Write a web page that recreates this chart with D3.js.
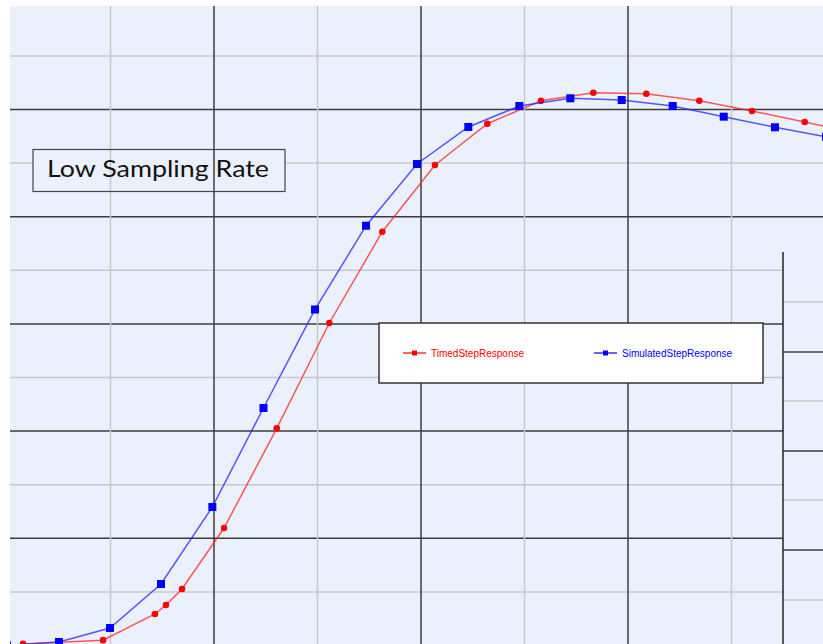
<!DOCTYPE html>
<meta charset="utf-8">
<script src="https://d3js.org/d3.v7.min.js"></script>
<style>
  body { margin: 0; background: #fff; }
</style>
<div id="my_dataviz"></div>
<script>
// chart size
var width = 823, height = 644

// grid positions (in chart units)
var xGrid = [1, 2, 3, 4, 5, 6, 7]
var yGrid = [1, 2, 3, 4, 5, 6, 7, 8, 9, 10, 11]

// TimedStepResponse (red, circles)
var timedT = [0.155, 0.928, 1.430, 1.536, 1.691, 2.097, 2.606, 3.114, 3.626, 4.135, 4.641, 5.159, 5.665, 6.177, 6.689, 7.198, 7.707, 8.21]
var timedV = [0.03, 0.10, 0.588, 0.756, 1.054, 2.192, 4.052, 6.017, 7.720, 8.965, 9.735, 10.164, 10.313, 10.295, 10.164, 9.972, 9.767, 9.56]

// SimulatedStepResponse (blue, squares)
var simT = [0, 0.502, 0.995, 1.488, 1.984, 2.478, 2.976, 3.469, 3.961, 4.457, 4.950, 5.443, 5.939, 6.432, 6.925, 7.420, 7.913]
var simV = [0, 0.065, 0.327, 1.147, 2.584, 4.431, 6.269, 7.832, 8.983, 9.674, 10.065, 10.209, 10.177, 10.065, 9.866, 9.668, 9.49]

// second window peeking in at bottom right
var panelGridLight = [302, 401, 500, 600]
var panelGridDark = [352, 451, 550]

var legendNames = ["TimedStepResponse", "SimulatedStepResponse"]
var titleText = "Low Sampling Rate"

var bg = "#ebf1fc"
var plotLeft = 10, plotTop = 6
var panelX = 783, panelY = 252

var x = d3.scaleLinear().domain([0, 8]).range([7, 835])
var y = d3.scaleLinear().domain([0, 12]).range([645.5, 2.3])

var svg = d3.select("#my_dataviz")
  .append("svg")
  .attr("width", width)
  .attr("height", height)
  .style("display", "block")

svg.append("defs").append("clipPath").attr("id", "plotclip")
  .append("rect").attr("x", plotLeft).attr("y", plotTop).attr("width", width - plotLeft).attr("height", height - plotTop)

svg.append("rect")
  .attr("x", plotLeft).attr("y", plotTop)
  .attr("width", width - plotLeft).attr("height", height - plotTop)
  .attr("fill", bg)

var gridColor = function(i) { return i % 2 === 0 ? "#3c3c3c" : "#c8c8c8" }

// horizontal grid lines (stop at the second window when below its top)
svg.selectAll(".hgrid")
  .data(yGrid)
  .enter()
  .append("line")
  .attr("x1", plotLeft)
  .attr("x2", function(d) { return y(d) > panelY ? panelX : width })
  .attr("y1", function(d) { return y(d) })
  .attr("y2", function(d) { return y(d) })
  .attr("stroke", function(d) { return gridColor(d) })
  .attr("stroke-width", 1.5)

// title box fill (hides horizontal lines inside)
svg.append("rect")
  .attr("x", 33).attr("y", 149.5)
  .attr("width", 252).attr("height", 42)
  .attr("fill", bg)

// vertical grid lines
svg.selectAll(".vgrid")
  .data(xGrid)
  .enter()
  .append("line")
  .attr("x1", function(d) { return x(d) })
  .attr("x2", function(d) { return x(d) })
  .attr("y1", plotTop)
  .attr("y2", height)
  .attr("stroke", function(d) { return gridColor(d) })
  .attr("stroke-width", 1.5)

// title box
svg.append("rect")
  .attr("x", 33).attr("y", 149.5)
  .attr("width", 252).attr("height", 42)
  .attr("fill", "none")
  .attr("stroke", "#444")
  .attr("stroke-width", 1.2)

svg.append("text")
  .attr("x", 47).attr("y", 177)
  .attr("textLength", 222)
  .attr("lengthAdjust", "spacingAndGlyphs")
  .style("font-family", "Lato, 'Open Sans', sans-serif")
  .style("font-size", "24px")
  .attr("fill", "#111")
  .text(titleText)

// second window
var panel = svg.append("g")
panel.append("rect")
  .attr("x", panelX).attr("y", panelY)
  .attr("width", width - panelX).attr("height", height - panelY)
  .attr("fill", bg)
panel.selectAll(".pl")
  .data(panelGridLight)
  .enter()
  .append("line")
  .attr("x1", panelX).attr("x2", width)
  .attr("y1", function(d) { return d }).attr("y2", function(d) { return d })
  .attr("stroke", "#c8c8c8").attr("stroke-width", 1.5)
panel.selectAll(".pd")
  .data(panelGridDark)
  .enter()
  .append("line")
  .attr("x1", panelX).attr("x2", width)
  .attr("y1", function(d) { return d }).attr("y2", function(d) { return d })
  .attr("stroke", "#3c3c3c").attr("stroke-width", 1.5)
panel.append("line")
  .attr("x1", panelX).attr("x2", panelX)
  .attr("y1", panelY).attr("y2", height)
  .attr("stroke", "#222").attr("stroke-width", 1.5)

// curves
var timed = timedT.map(function(t, i) { return [t, timedV[i]] })
var sim = simT.map(function(t, i) { return [t, simV[i]] })

var line = d3.line()
  .x(function(d) { return x(d[0]) })
  .y(function(d) { return y(d[1]) })

var plot = svg.append("g").attr("clip-path", "url(#plotclip)")

plot.append("path")
  .datum(timed)
  .attr("d", line)
  .attr("fill", "none")
  .attr("stroke", "#ff2020")
  .attr("stroke-opacity", 0.75)
  .attr("stroke-width", 1.5)

plot.selectAll(".rdot")
  .data(timed)
  .enter()
  .append("circle")
  .attr("cx", function(d) { return x(d[0]) })
  .attr("cy", function(d) { return y(d[1]) })
  .attr("r", 3.3)
  .attr("fill", "#ff0000")

plot.append("path")
  .datum(sim)
  .attr("d", line)
  .attr("fill", "none")
  .attr("stroke", "#2020ff")
  .attr("stroke-opacity", 0.75)
  .attr("stroke-width", 1.5)

plot.selectAll(".bsq")
  .data(sim)
  .enter()
  .append("rect")
  .attr("x", function(d) { return x(d[0]) - 4 })
  .attr("y", function(d) { return y(d[1]) - 4 })
  .attr("width", 8)
  .attr("height", 8)
  .attr("fill", "#0000ff")

// legend
var legend = svg.append("g")
legend.append("rect")
  .attr("x", 379).attr("y", 323)
  .attr("width", 384).attr("height", 60)
  .attr("fill", "#fff")
  .attr("stroke", "#333")
  .attr("stroke-width", 1.5)

var legendItems = [
  { name: legendNames[0], color: "#ff0000", x0: 403 },
  { name: legendNames[1], color: "#0000ff", x0: 594 }
]
legendItems.forEach(function(item) {
  legend.append("line")
    .attr("x1", item.x0).attr("x2", item.x0 + 23)
    .attr("y1", 353).attr("y2", 353)
    .attr("stroke", item.color)
    .attr("stroke-width", 1.2)
  legend.append("rect")
    .attr("x", item.x0 + 9).attr("y", 350.5)
    .attr("width", 5).attr("height", 5)
    .attr("fill", item.color)
  legend.append("text")
    .attr("x", item.x0 + 28).attr("y", 356.5)
    .style("font-family", "'Liberation Sans', Arial, sans-serif")
    .style("font-size", "10px")
    .attr("fill", item.color)
    .text(item.name)
})
</script>
